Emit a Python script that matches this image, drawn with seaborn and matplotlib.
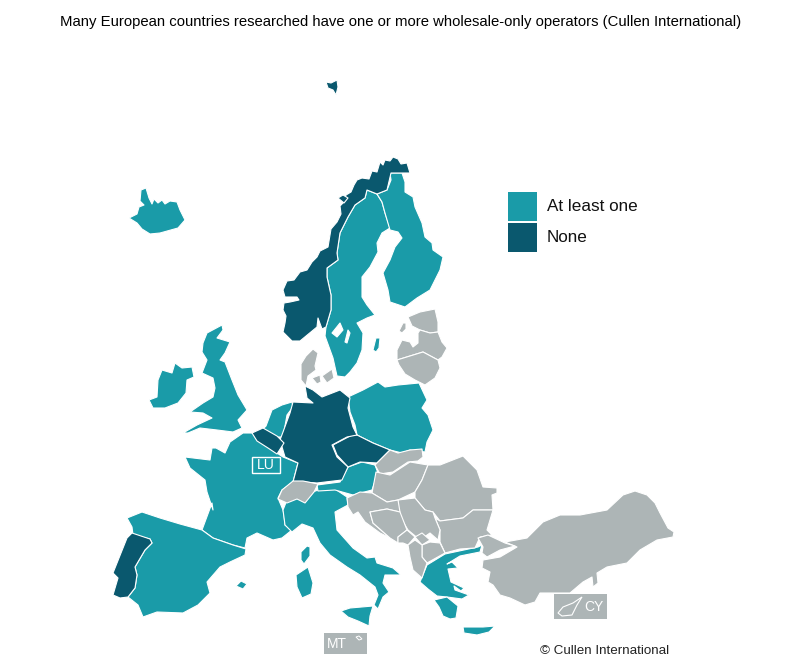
import matplotlib
matplotlib.use("Agg")
import matplotlib.pyplot as plt
from matplotlib.patches import Rectangle
import seaborn as sns

# country outlines (x, y in picture pixels)
svalbard = [(326,82),(331,83),(337,80),(338,87),(336,95),(333,90),(328,88)]
iceland = [(129,218),(137,214),(139,207),(144,205),(140,201),(141,190),(146,188),(149,198),(152,204),(154,199),(158,203),(162,200),
           (165,204),(170,201),(177,202),(180,210),(185,220),(178,228),(160,233),(150,234),(142,229),(137,223)]
norway = [(283,332),(292,341),(300,341),(317,327),(318,318),(322,329),(326,327),(331,310),(331,295),(327,277),(327,268),(338,260),
          (337,253),(340,233),(348,217),(355,205),(365,198),(367,190),(377,194),(387,190),(391,173),(402,173),(410,173),(407,163),
          (401,164),(398,159),(393,157),(390,161),(385,160),(383,165),(380,162),(377,172),(372,171),(369,179),(362,178),(357,180),
          (354,185),(351,192),(346,195),(344,202),(340,206),(341,214),(337,222),(331,229),(328,247),(320,251),(317,257),(312,262),
          (307,270),(300,272),(294,280),(287,281),(283,290),(285,297),(297,297),(299,300),(290,302),(284,303),(283,310),(286,316),
          (285,323)]
lofoten = [(338,198),(343,195),(348,198),(344,203)]
sweden = [(367,190),(377,194),(382,202),(385,213),(390,228),(382,233),(377,243),(378,252),(370,267),(362,277),(362,297),(367,305),
          (375,315),(367,318),(357,323),(363,333),(362,350),(357,363),(350,372),(345,377),(337,376),(333,358),(325,336),(326,327),
          (331,310),(331,295),(327,277),(327,268),(338,260),(337,253),(340,233),(348,217),(355,205),(365,198)]
gotland = [(373,350),(376,338),(380,338),(379,348),(376,352)]
finland = [(390,173),(402,173),(405,182),(405,192),(413,197),(415,207),(422,223),(425,237),(432,243),(433,250),(443,257),(440,270),
           (430,290),(417,298),(405,307),(390,302),(388,290),(383,273),(390,260),(395,247),(402,238),(398,232),(390,230),(385,213),
           (382,202),(377,194),(387,190),(391,180)]
estonia = [(408,317),(420,312),(435,309),(438,322),(438,332),(430,333),(420,330),(412,326)]
estonia_isl = [(399,331),(403,323),(406,323),(406,329),(402,333)]
latvia = [(397,360),(397,350),(402,340),(410,342),(413,347),(418,343),(418,333),(420,330),(430,333),(438,332),(442,342),(447,348),
          (442,357),(438,360),(423,352),(410,356)]
lithuania = [(397,360),(410,356),(423,352),(438,360),(440,368),(435,378),(425,385),(415,380),(405,374),(399,365)]
poland = [(348,397),(363,390),(378,382),(385,387),(398,385),(419,383),(427,400),(422,408),(428,415),(433,430),(427,442),(425,452),
          (410,450),(402,453),(390,450),(373,443),(357,435),(355,425),(350,412)]
czechia = [(333,445),(352,435),(357,435),(373,443),(390,450),(377,463),(360,462),(348,467),(337,455)]
germany = [(305,386),(313,390),(322,397),(340,390),(350,398),(348,408),(353,427),(357,435),(347,437),(332,445),(337,457),(348,467),
           (342,480),(317,483),(303,482),(293,482),(298,463),(285,457),(280,440),(283,432),(290,413),(293,402),(313,403),(307,398)]
denmark = [(301,364),(306,356),(313,349),(318,353),(315,366),(316,370),(308,376),(306,386),(301,380)]
denmark_fyn = [(312,378),(320,375),(321,382),(317,384)]
denmark_zealand = [(322,376),(332,369),(334,378),(327,383)]
netherlands = [(266,426),(272,410),(282,405),(292,402),(293,407),(287,415),(283,437),(277,437),(263,429)]
belgium = [(252,433),(263,428),(277,436),(284,443),(277,454),(268,448),(257,441)]
france = [(243,433),(253,433),(257,440),(268,447),(277,453),(283,457),(298,463),(293,482),(282,490),(278,498),(283,510),(284,515),
          (285,525),(292,530),(282,538),(273,540),(257,533),(247,538),(245,548),(233,545),(213,538),(202,530),(212,503),(213,510),
          (207,492),(205,480),(190,468),(185,457),(210,460),(212,448),(216,448),(225,453),(230,442)]
corsica = [(301,552),(307,546),(310,547),(310,556),(304,564),(301,560)]
spain = [(127,518),(142,512),(160,518),(180,524),(202,530),(213,538),(233,545),(246,549),(245,555),(230,562),(220,567),(207,582),
         (210,593),(198,605),(183,613),(157,612),(143,617),(138,605),(128,597),(135,588),(137,575),(135,567),(145,550),(152,543),
         (150,539),(133,535),(132,527)]
balearics = [(236,586),(241,581),(247,584),(243,589)]
portugal = [(132,533),(150,539),(152,543),(145,550),(135,567),(137,575),(135,588),(128,597),(120,598),(113,595),(118,578),(113,573),
            (117,563),(127,538)]
italy = [(283,510),(287,500),(297,497),(303,500),(313,492),(318,490),(335,489),(347,497),(348,505),(335,512),(337,530),(353,548),
         (367,558),(375,557),(377,563),(393,568),(401,575),(393,575),(385,575),(383,583),(389,592),(383,597),(378,609),(374,605),
         (378,595),(375,587),(360,575),(347,567),(330,555),(320,543),(313,528),(302,524),(292,532),(285,525)]
sicily = [(341,611),(350,608),(373,606),(370,616),(369,626),(358,621),(348,617)]
sardinia = [(296,575),(308,567),(313,583),(311,594),(302,598),(297,587)]
switzerland = [(278,499),(282,490),(293,481),(303,481),(318,484),(314,492),(305,503),(297,499),(287,503)]
austria = [(317,485),(340,482),(348,467),(362,462),(375,465),(378,473),(372,490),(353,495),(335,490),(318,491)]
slovakia = [(375,465),(390,450),(398,453),(410,450),(422,449),(423,457),(418,461),(408,462),(393,472),(380,474)]
hungary = [(376,472),(390,475),(410,462),(428,465),(422,480),(415,492),(398,500),(387,502),(372,493)]
romania = [(428,465),(440,465),(463,456),(477,470),(483,487),(497,488),(497,493),(492,495),(493,510),(473,510),(463,518),(440,521),
           (433,512),(425,510),(415,498),(415,492),(422,480)]
bulgaria = [(440,521),(463,518),(473,510),(493,510),(487,530),(492,535),(480,537),(475,548),(460,549),(445,553),(440,542),(440,530),
            (435,518)]
serbia = [(398,500),(415,498),(425,510),(433,512),(435,518),(440,530),(438,540),(430,533),(420,540),(408,530),(402,520),(398,508)]
croatia = [(347,498),(360,492),(372,493),(387,502),(398,500),(400,512),(387,509),(370,512),(373,523),(390,538),(380,533),(365,522),
           (358,512),(353,515),(348,507)]
bosnia = [(370,512),(387,509),(400,512),(407,530),(398,537),(398,543),(390,538),(373,523)]
montenegro = [(398,543),(398,537),(407,530),(415,537),(408,545),(403,543)]
kosovo = [(415,537),(422,533),(430,540),(422,545)]
macedonia = [(422,545),(430,542),(440,543),(445,553),(427,563),(422,557)]
albania = [(408,545),(415,540),(422,545),(422,557),(427,563),(422,578),(413,570),(410,557)]
greece = [(427,565),(445,554),(478,547),(482,545),(480,552),(460,556),(447,564),(452,562),(458,568),(448,569),(451,582),(464,588),
          (461,591),(454,586),(455,590),(469,595),(462,599),(447,597),(437,596),(428,589),(420,582)]
peloponnese = [(434,600),(447,597),(458,606),(456,618),(450,619),(443,616),(439,607)]
crete = [(463,627),(483,627),(495,626),(489,632),(477,635),(464,633)]
turkey_asia = [(505,542),(527,538),(543,522),(560,515),(580,515),(607,510),(623,495),(635,491),(647,495),(655,503),(660,513),(668,528),
               (674,532),(673,537),(657,540),(640,550),(627,563),(607,567),(597,573),(598,583),(593,587),(592,577),(583,582),(570,593),
               (540,593),(535,602),(525,605),(510,598),(500,595),(493,585),(488,582),(490,572),(482,568),(483,560),(500,557),(517,547)]
turkey_europe = [(478,538),(488,535),(505,543),(515,546),(500,550),(487,557),(482,553),(483,547)]
britain = [(207,333),(222,325),(223,330),(217,338),(230,342),(225,353),(220,360),(225,362),(232,380),(238,395),(247,410),(238,420),
           (242,428),(233,432),(217,430),(200,428),(188,433),(183,433),(197,425),(212,418),(203,413),(190,412),(203,403),(213,397),
           (215,388),(213,378),(202,373),(207,360),(202,352),(203,343)]
ireland = [(149,400),(157,397),(158,380),(162,370),(172,373),(175,363),(182,368),(192,367),(194,377),(187,380),(186,393),(178,403),
           (165,408),(153,408)]

# lakes cut out of sweden
vanern = [(332,333),(340,323),(343,330),(337,337)]
vattern = [(345,342),(348,330),(350,333),(347,343)]

# which group each outline belongs to
at_least_one = [iceland, sweden, gotland, finland, poland, netherlands, france, corsica, spain, balearics, italy, sicily,
                sardinia, austria, greece, peloponnese, crete, britain, ireland]
none = [svalbard, norway, lofoten, czechia, germany, belgium, portugal]
not_researched = [estonia, estonia_isl, latvia, lithuania, denmark, denmark_fyn, denmark_zealand, switzerland, slovakia, hungary,
                  romania, bulgaria, serbia, croatia, bosnia, montenegro, kosovo, macedonia, albania, turkey_asia, turkey_europe]

cyprus = [(558,613),(563,607),(573,603),(582,597),(577,605),(572,615),(562,616)]
malta = [(356,637),(359,636),(362,639),(359,640)]

legend_labels = ["At least one", "None"]
title = "Many European countries researched have one or more wholesale-only operators (Cullen International)"

sns.set_theme(style="white")
plt.rcParams['font.family'] = ['Liberation Sans', 'DejaVu Sans']
teal, dark, grey = sns.color_palette(["#1a9ba8", "#0a586e", "#adb5b6"])

fig = plt.figure(figsize=(7.86, 6.6), dpi=100)
ax = fig.add_axes([0, 0, 1, 1])
ax.set_xlim(0, 786)
ax.set_ylim(660, 0)
ax.axis("off")


def draw_group(shapes, color):
    for shape in shapes:
        xs, ys = zip(*shape)
        ax.fill(xs, ys, facecolor=color, edgecolor="white", linewidth=0.8, joinstyle="round")


draw_group(at_least_one, teal)
draw_group(none, dark)
draw_group(not_researched, grey)
draw_group([vanern, vattern], "white")

ax.text(401, 22, title, ha="center", va="center", fontsize=10.75, color="black")

# legend
for i, (label, color) in enumerate(zip(legend_labels, [teal, dark])):
    ax.add_patch(Rectangle((508, 192 + i * 31), 29, 29, facecolor=color, edgecolor="none"))
    ax.text(547, 206.5 + i * 31, label, ha="left", va="center", fontsize=12.3, color="#111111")

# small country call-outs
ax.add_patch(Rectangle((252, 457), 28, 16, facecolor="none", edgecolor="white", linewidth=1))
ax.text(266, 465, "LU", ha="center", va="center", fontsize=10, color="white")

ax.add_patch(Rectangle((324, 633), 43, 21, facecolor=grey, edgecolor="none"))
ax.text(337, 644, "MT", ha="center", va="center", fontsize=10, color="white")
xs, ys = zip(*malta)
ax.fill(xs, ys, facecolor="none", edgecolor="white", linewidth=0.7)

ax.add_patch(Rectangle((554, 594), 53, 25, facecolor=grey, edgecolor="none"))
ax.text(594, 607, "CY", ha="center", va="center", fontsize=10, color="white")
xs, ys = zip(*cyprus)
ax.fill(xs, ys, facecolor="none", edgecolor="white", linewidth=0.8)

ax.text(540, 651, "© Cullen International", ha="left", va="center", fontsize=9.6, color="#222222")

fig.savefig("out.png", dpi=100)
